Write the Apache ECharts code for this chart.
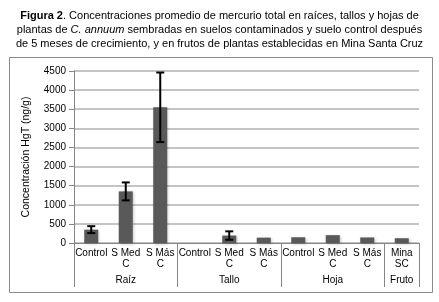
<!DOCTYPE html>
<html><head><meta charset="utf-8">
<script src="https://cdn.jsdelivr.net/npm/echarts@6/dist/echarts.min.js"></script>
<style>html,body{margin:0;padding:0;background:#fff}#c{width:439px;height:302px}</style>
</head><body><div id="c"></div>
<script>
const categories = ['Control','S Med\nC','S Más\nC','Control','S Med\nC','S Más\nC','Control','S Med\nC','S Más\nC','Mina\nSC'];
const groupOfCategory = ['Raíz','Raíz','Raíz','Tallo','Tallo','Tallo','Hoja','Hoja','Hoja','Fruto'];
const groupLabelIndex = [1,4,7,9];
const groupStartIndex = [0,3,6,9];
const means = [350, 1350, 3550, 0, 195, 140, 150, 205, 145, 125];
const errors = [90, 235, 910, 0, 110, 0, 0, 0, 0, 0];
const yTicks = {min:0, max:4500, interval:500};

const FONT = '"Liberation Sans", Arial, sans-serif';
const chart = echarts.init(document.getElementById('c'), null, {renderer:'canvas'});
const errData = means.map((m,i)=>[i, m-errors[i], m+errors[i]]);
chart.setOption({
  animation:false,
  textStyle:{fontFamily:FONT},
  title:{
    left:'center', top:4,
    text:'{b|Figura 2}. Concentraciones promedio de mercurio total en raíces, tallos y hojas de\nplantas de {i|C. annuum} sembradas en suelos contaminados y suelo control después\nde 5 meses de crecimiento, y en frutos de plantas establecidas en Mina Santa Cruz',
    textStyle:{fontFamily:FONT, fontSize:11, fontWeight:'normal', color:'#000', lineHeight:14,
      rich:{b:{fontFamily:FONT,fontSize:11,fontWeight:'bold',color:'#000',lineHeight:14},
            i:{fontFamily:FONT,fontSize:11,fontStyle:'italic',color:'#000',lineHeight:14}}}
  },
  graphic:[{type:'rect', shape:{x:9.5,y:57.5,width:423,height:235}, style:{fill:'none', stroke:'#8a8a8a', lineWidth:1}, z:-1}],
  grid:{left:74, right:20, top:71, bottom:59},
  xAxis:[{
    type:'category', data:categories, position:'bottom',
    axisLine:{show:true, lineStyle:{color:'#868686', width:1}},
    axisTick:{show:false},
    axisLabel:{interval:0, margin:5, fontSize:10, color:'#000', lineHeight:11, fontFamily:FONT}
  },{
    type:'category', data:groupOfCategory, position:'bottom', offset:0,
    axisLine:{show:false},
    axisTick:{show:true, length:44, lineStyle:{color:'#868686'}, interval:(idx)=>groupStartIndex.includes(idx)},
    axisLabel:{interval:(idx)=>groupLabelIndex.includes(idx), margin:32, fontSize:10, color:'#000', fontFamily:FONT}
  }],
  yAxis:{
    type:'value', min:yTicks.min, max:yTicks.max, interval:yTicks.interval,
    name:'Concentración HgT (ng/g)', nameLocation:'middle', nameGap:42,
    nameTextStyle:{fontSize:10.5, color:'#000', fontFamily:FONT},
    axisLine:{show:true, lineStyle:{color:'#868686'}},
    axisTick:{show:true, length:5, lineStyle:{color:'#868686'}},
    axisLabel:{fontSize:10, color:'#000', margin:8, fontFamily:FONT, formatter:(v)=>String(v)},
    splitLine:{lineStyle:{color:'#b0b0b0', width:1.5}}
  },
  series:[{
    type:'bar', data:means, barWidth:14, xAxisIndex:0,
    itemStyle:{color:'#595959', shadowColor:'rgba(0,0,0,0.25)', shadowBlur:3, shadowOffsetX:1, shadowOffsetY:1}
  },{
    type:'custom', xAxisIndex:0, data:errData, z:5,
    renderItem:(params, api)=>{
      const x = api.value(0);
      if (api.value(2) === api.value(1)) return null;
      const lo = api.coord([x, api.value(1)]);
      const hi = api.coord([x, api.value(2)]);
      const hw = 4;
      const st = {stroke:'#000', lineWidth:2};
      return {type:'group', children:[
        {type:'line', shape:{x1:lo[0],y1:lo[1],x2:hi[0],y2:hi[1]}, style:st},
        {type:'line', shape:{x1:lo[0]-hw,y1:lo[1],x2:lo[0]+hw,y2:lo[1]}, style:st},
        {type:'line', shape:{x1:hi[0]-hw,y1:hi[1],x2:hi[0]+hw,y2:hi[1]}, style:st}
      ]};
    }
  }]
});
</script></body></html>
